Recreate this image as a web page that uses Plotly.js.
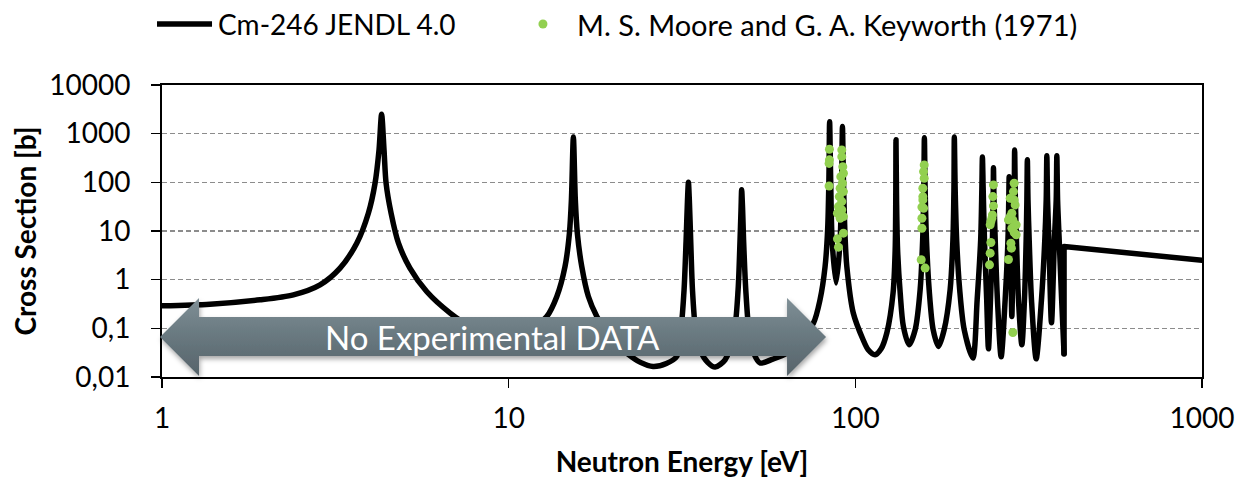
<!DOCTYPE html>
<html>
<head>
<meta charset="utf-8">
<script src="https://cdn.plot.ly/plotly-3.0.1.min.js"></script>
<style>
  html, body { margin: 0; padding: 0; background: #ffffff; }
  #chart { width: 1239px; height: 481px; }
  .scatterlayer .js-line { stroke-linejoin: round; stroke-linecap: round; }
</style>
</head>
<body>
<div id="chart"></div>
<script>
// Cm-246 evaluated cross section (JENDL 4.0), energy in eV, cross section in barns
// Resolved resonance region, up to 400 eV
const jendlEnergy = [
  1, 1.375, 1.918, 2.393, 2.857, 3.263, 3.646, 3.938, 4.117, 4.227, 4.30, 4.37, 4.43, 4.58, 4.81, 5.19, 5.80, 6.78,
  7.6, 9.5, 11.3,
  12.88, 13.77, 14.54, 14.97, 15.17, 15.37, 15.57, 15.78, 16.25, 16.98, 17.96, 19.6, 21.9, 24.0, 26.1, 28.5,
  30.55, 31.4, 32.06, 32.5, 32.8, 33.0, 33.2, 33.5, 33.9, 34.6, 35.7, 37.5, 39.4,
  42.1, 44.7, 45.9, 46.5, 46.8, 47.0, 47.3, 47.6, 48.3, 49.4, 51.0, 53.1, 57.5, 63.5, 69.3,
  75.7, 79.1, 81.8, 83.2, 83.9, 84.3, 84.9, 85.7, 88.0, 90.4, 91.3, 91.8, 92.4, 93.5, 94.5, 98.6, 105.3, 108.9, 114.0, 118.7,
  123.3, 128.5, 130.3, 130.8, 131.0, 131.5, 132.4, 134.7, 137.6, 142.9,
  148.8, 153.8, 156.4, 157.6, 158.2, 159.0, 160.4, 163.3, 167.7, 173.7,
  180.4, 187.7, 191.2, 192.5, 193.0, 194.1, 196.0, 200.0, 206.1, 218.3,
  224.6, 229.9, 231.7, 232.6, 233.8, 235.8, 239.3, 242.1,
  245.4, 248.6, 249.8, 250.3, 251.2, 253.2, 257.0, 263.4,
  270.5, 275.6, 277.1, 277.8, 278.9, 280.4, 282.8, 285.3, 287.2, 288.1, 289.5, 291.6, 295.5, 302.2,
  307.5, 311.0, 312.5, 313.5, 314.8, 317.3, 322.2, 332.4,
  344.3, 352.0, 355.3, 356.8, 358.5, 361.7, 368.0, 375.2, 379.7, 381.3, 383.2, 387.3, 393.7,
  400.0
];
const jendlXS = [
  0.29, 0.313, 0.386, 0.489, 0.784, 1.73, 5.62, 23.2, 96, 462, 2500, 462, 96, 23.2, 5.62, 1.73, 0.571, 0.206,
  0.12, 0.07, 0.085,
  0.175, 0.451, 1.86, 9.03, 43.5, 850, 43.5, 9.03, 1.86, 0.451, 0.175, 0.065, 0.031, 0.02, 0.0165, 0.019,
  0.0265, 0.0935, 0.62, 6.6, 43.5, 100, 43.5, 6.6, 0.62, 0.0935, 0.035, 0.02, 0.016,
  0.0226, 0.081, 0.62, 6.6, 27.2, 70, 27.2, 6.6, 0.62, 0.081, 0.03, 0.0194, 0.023, 0.031, 0.06,
  0.128, 0.386, 1.86, 10.55, 112, 1750, 112, 6.6, 0.85, 6.6, 112, 1400, 112, 6.6, 1.86, 0.209, 0.0583, 0.0363, 0.0287, 0.038,
  0.081, 0.537, 4.1, 43.5, 750, 43.5, 4.1, 0.537, 0.109, 0.046,
  0.0935, 0.62, 6.6, 70, 820, 70, 6.6, 0.62, 0.0935, 0.0425,
  0.0935, 0.62, 6.6, 70, 850, 70, 6.6, 0.62, 0.0935, 0.0245,
  0.386, 6.6, 70, 330, 70, 6.6, 0.386, 0.038,
  0.386, 6.6, 43.5, 200, 43.5, 6.6, 0.386, 0.0261,
  0.386, 6.6, 43.5, 130, 43.5, 6.6, 0.175, 6.6, 43.5, 460, 43.5, 6.6, 0.386, 0.046,
  0.386, 6.6, 43.5, 290, 43.5, 6.6, 0.386, 0.0237,
  0.386, 6.6, 43.5, 350, 43.5, 6.6, 0.13, 6.6, 43.5, 350, 43.5, 6.6, 0.386,
  0.03
];
// Unresolved region: step at 400 eV, then a smooth fall to 1 keV
const jendlTailEnergy = [400.0, 400.0, 1000];
const jendlTailXS = [0.03, 4.8, 2.5];

// Measured points, M. S. Moore and G. A. Keyworth (1971)
const mooreEnergy = [
  84.2, 84.2, 84.0, 84.0,
  91.4, 91.4, 92.0, 92.4, 90.8, 91.8, 90.4, 92.4, 89.9, 91.4, 89.4, 91.4, 88.8, 92.4, 90.4, 92.4, 88.8, 89.4,
  158.0, 157.3, 158.0, 156.6, 156.6, 156.6, 157.3, 155.6, 155.6, 155.6, 154.9, 159.0,
  250.3, 249.3, 250.3, 248.6, 247.7, 246.0, 244.9, 246.0, 244.9, 243.8,
  287.2, 285.9, 279.7, 287.2, 289.1, 282.8, 279.7, 284.7, 276.5, 291.1, 282.8, 287.2, 291.1, 281.0, 282.0, 276.5, 284.7
];
const mooreXS = [
  478, 290, 245, 84,
  463, 337, 210, 154, 131, 96, 75.7, 64.5, 50.9, 40.2, 31.7, 27.2, 23.2, 19.8, 18.3, 9.03, 6.9, 4.66,
  228, 166, 121.5, 75.7, 51, 43.5, 29.4, 31, 18.3, 11.4, 2.56, 1.73,
  88.5, 51, 32.8, 21.4, 18.3, 15.6, 13.4, 5.79, 3.51, 2.02,
  96, 64.5, 47.2, 43.5, 34.4, 23.2, 19.8, 16.9, 16.9, 13.4, 11.4, 9.29, 8.33, 5.63, 4.44, 2.6, 0.0823
];

// Axis ticks
const xTickVals = [1, 10, 100, 1000];
const xTickText = ['1', '10', '100', '1000'];
const yTickVals = [0.01, 0.1, 1, 10, 100, 1000, 10000];
const yTickText = ['0,01', '0,1', '1', '10', '100', '1000', '10000'];

const seriesNames = ['Cm-246 JENDL 4.0', 'M. S. Moore and G. A. Keyworth (1971)'];
const bannerText = 'No Experimental DATA';

const FONT = 'Lato, "Open Sans", sans-serif';
const LINE_BLACK = '#000000';
const DOT_GREEN = '#92d050';
const ARROW_GREY = 'rgb(103, 118, 125)';

const traces = [
  {
    x: jendlEnergy, y: jendlXS, type: 'scatter', mode: 'lines',
    name: seriesNames[0], line: { color: LINE_BLACK, width: 5.5, shape: 'spline', smoothing: 0.8 },
    showlegend: false, hoverinfo: 'x+y'
  },
  {
    x: jendlTailEnergy, y: jendlTailXS, type: 'scatter', mode: 'lines',
    name: seriesNames[0], line: { color: LINE_BLACK, width: 5.5 },
    showlegend: false, hoverinfo: 'x+y'
  },
  {
    x: mooreEnergy, y: mooreXS, type: 'scatter', mode: 'markers',
    name: seriesNames[1], marker: { color: DOT_GREEN, size: 9, line: { width: 0 } },
    showlegend: false, hoverinfo: 'x+y'
  }
];

// Double-headed banner arrow, in paper coordinates of the plot area
const arrowPath = [
  'M -0.0019 0.137',
  'L 0.0356 0.2705', 'L 0.0356 0.2055', 'L 0.601 0.2055', 'L 0.601 0.2705',
  'L 0.6385 0.137',
  'L 0.601 0.0034', 'L 0.601 0.0719', 'L 0.0356 0.0719', 'L 0.0356 0.0034', 'Z'
].join(' ');

const layout = {
  width: 1239, height: 481,
  margin: { l: 162, r: 37, t: 85, b: 104, pad: 0 },
  paper_bgcolor: '#ffffff', plot_bgcolor: '#ffffff',
  font: { family: FONT, size: 28, color: '#000000' },
  showlegend: false,
  xaxis: {
    type: 'log', range: [0, 3],
    tickvals: xTickVals, ticktext: xTickText,
    ticks: 'outside', ticklen: 9, tickwidth: 1.5, tickcolor: '#000000',
    ticklabelstandoff: 6,
    showline: true, linecolor: '#000000', linewidth: 2, mirror: true,
    showgrid: false, zeroline: false,
    tickfont: { family: FONT, size: 28, color: '#000000' },
    title: { text: 'Neutron Energy [eV]', font: { family: FONT, size: 28, weight: 'bold', color: '#000000' }, standoff: 20 }
  },
  yaxis: {
    type: 'log', range: [-2, 4],
    tickvals: yTickVals, ticktext: yTickText,
    ticks: 'outside', ticklen: 9, tickwidth: 1.5, tickcolor: '#000000',
    ticklabelstandoff: 15,
    showline: true, linecolor: '#000000', linewidth: 2, mirror: true,
    showgrid: true, gridcolor: '#8c8c8c', gridwidth: 1.3, griddash: '5px,3px',
    zeroline: false,
    tickfont: { family: FONT, size: 28, color: '#000000' },
    title: { text: 'Cross Section [b]', font: { family: FONT, size: 28, weight: 'bold', color: '#000000' }, standoff: 4 }
  },
  shapes: [
    {
      type: 'path', xref: 'paper', yref: 'paper', path: arrowPath,
      fillcolor: ARROW_GREY, line: { width: 0 }, layer: 'above'
    },
    // legend key: line sample
    {
      type: 'line', xref: 'paper', yref: 'paper',
      x0: -0.0048, x1: 0.0481, y0: 1.2089, y1: 1.2089,
      line: { color: LINE_BLACK, width: 5.5 }, layer: 'above'
    },
    // legend key: marker sample
    {
      type: 'circle', xref: 'paper', yref: 'paper',
      xsizemode: 'pixel', ysizemode: 'pixel', xanchor: 0.3663, yanchor: 1.2089,
      x0: -4.5, x1: 4.5, y0: -4.5, y1: 4.5,
      fillcolor: DOT_GREEN, line: { width: 0 }, layer: 'above'
    }
  ],
  annotations: [
    {
      text: bannerText, xref: 'paper', yref: 'paper', x: 0.3178, y: 0.137,
      xanchor: 'center', yanchor: 'middle', showarrow: false,
      font: { family: FONT, size: 33, color: '#ffffff' }
    },
    {
      text: seriesNames[0], xref: 'paper', yref: 'paper', x: 0.0519, y: 1.2089,
      xanchor: 'left', yanchor: 'middle', showarrow: false,
      font: { family: FONT, size: 28, color: '#000000' }
    },
    {
      text: seriesNames[1], xref: 'paper', yref: 'paper', x: 0.3971, y: 1.2089,
      xanchor: 'left', yanchor: 'middle', showarrow: false,
      font: { family: FONT, size: 29, color: '#000000' }
    }
  ]
};

Plotly.newPlot('chart', traces, layout, { staticPlot: true, displayModeBar: false }).then(function (gd) {
  // Give the banner arrow a vertical grey gradient and a soft drop shadow
  const svg = gd.querySelector('svg.main-svg');
  const NS = 'http://www.w3.org/2000/svg';
  let defs = svg.querySelector('defs');
  if (!defs) { defs = document.createElementNS(NS, 'defs'); svg.insertBefore(defs, svg.firstChild); }

  const grad = document.createElementNS(NS, 'linearGradient');
  grad.setAttribute('id', 'bannerFill');
  grad.setAttribute('x1', '0'); grad.setAttribute('y1', '0');
  grad.setAttribute('x2', '0'); grad.setAttribute('y2', '1');
  [['0%', '#7f8f96'], ['45%', '#6a7a81'], ['100%', '#56636a']].forEach(function (s) {
    const stop = document.createElementNS(NS, 'stop');
    stop.setAttribute('offset', s[0]);
    stop.setAttribute('stop-color', s[1]);
    grad.appendChild(stop);
  });
  defs.appendChild(grad);

  const filt = document.createElementNS(NS, 'filter');
  filt.setAttribute('id', 'bannerShadow');
  filt.setAttribute('x', '-10%'); filt.setAttribute('y', '-30%');
  filt.setAttribute('width', '120%'); filt.setAttribute('height', '170%');
  const ds = document.createElementNS(NS, 'feDropShadow');
  ds.setAttribute('dx', '1'); ds.setAttribute('dy', '3');
  ds.setAttribute('stdDeviation', '2.5');
  ds.setAttribute('flood-color', '#000000');
  ds.setAttribute('flood-opacity', '0.35');
  filt.appendChild(ds);
  defs.appendChild(filt);

  gd.querySelectorAll('.shapelayer path').forEach(function (p) {
    const fill = (p.style.fill || '').replace(/\s/g, '');
    if (fill === ARROW_GREY.replace(/\s/g, '')) {
      p.style.fill = 'url(#bannerFill)';
      p.setAttribute('filter', 'url(#bannerShadow)');
    }
  });
});
</script>
</body>
</html>
